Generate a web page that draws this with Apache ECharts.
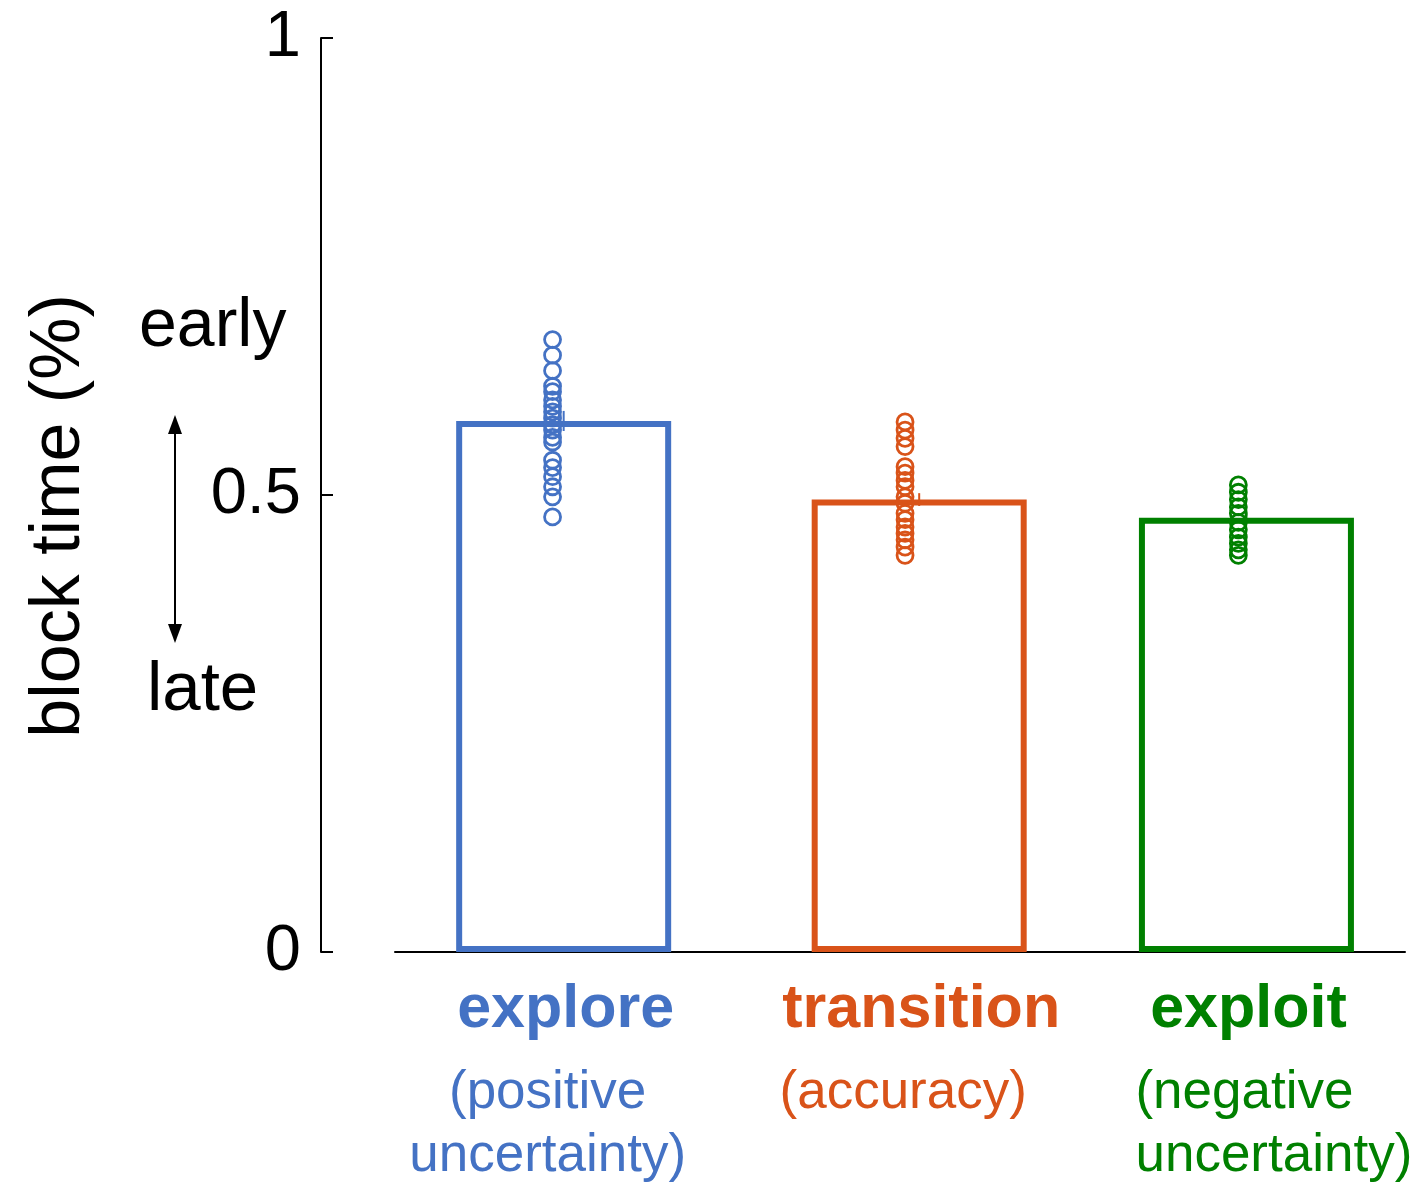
<!DOCTYPE html>
<html>
<head>
<meta charset="utf-8">
<script src="https://cdn.jsdelivr.net/npm/echarts@6/dist/echarts.min.js"></script>
<style>
html,body{margin:0;padding:0;background:#fff;}
#chart{width:1420px;height:1183px;}
</style>
</head>
<body>
<div id="chart"></div>
<script>
const categories = ['explore', 'transition', 'exploit'];
const subLabels = [['(positive', 'uncertainty)'], ['(accuracy)'], ['(negative', 'uncertainty)']];
const subAlign = ['center', 'center', 'left'];
const colors = ['#4472C4', '#D95319', '#008000'];
const barPos = [0.167, 0.519, 0.843];
const dotPos = [0.156, 0.505, 0.835];
const means = [0.581, 0.495, 0.475];
const sems = [0.011, 0.007, 0.004];
const exploreDots = [0.670, 0.653, 0.636, 0.619, 0.613, 0.604, 0.597, 0.591, 0.584, 0.577, 0.571, 0.563, 0.558, 0.538, 0.530, 0.520, 0.509, 0.498, 0.476];
const transitionDots = [0.580, 0.571, 0.562, 0.553, 0.531, 0.524, 0.516, 0.509, 0.498, 0.491, 0.480, 0.473, 0.465, 0.458, 0.451, 0.443, 0.434];
const exploitDots = [0.511, 0.503, 0.495, 0.487, 0.480, 0.470, 0.462, 0.454, 0.447, 0.440, 0.434];
const dotGroups = [exploreDots, transitionDots, exploitDots];
const yMin = 0, yMax = 1, yInterval = 0.5;
const yTitle = 'block time (%)';
const earlyLabel = 'early';
const lateLabel = 'late';

const FONT = "'Liberation Sans', Arial, Helvetica, sans-serif";

const chart = echarts.init(document.getElementById('chart'), null, {renderer: 'canvas'});

const series = [];
series.push({
  type: 'bar',
  barWidth: 215,
  z: 2,
  data: means.map((m, i) => ({
    value: [barPos[i], m],
    itemStyle: {color: 'rgba(0,0,0,0)', borderColor: colors[i], borderWidth: 6}
  })),
  animation: false
});
dotGroups.forEach((g, i) => {
  series.push({
    type: 'scatter',
    symbol: 'circle',
    symbolSize: 16,
    z: 3,
    itemStyle: {color: 'rgba(0,0,0,0)', borderColor: colors[i], borderWidth: 2.8, opacity: 1},
    data: g.map(v => [dotPos[i], v]),
    animation: false
  });
});
series.push({
  type: 'custom',
  z: 4,
  data: means.map((m, i) => [barPos[i], m, sems[i], i]),
  renderItem: function (params, api) {
    const x = api.value(0), m = api.value(1), s = api.value(2), i = api.value(3);
    const p1 = api.coord([x, m + s]);
    const p2 = api.coord([x, m - s]);
    return {
      type: 'line',
      shape: {x1: p1[0], y1: p1[1], x2: p2[0], y2: p2[1]},
      style: {stroke: colors[i], lineWidth: 2}
    };
  },
  animation: false
});

chart.setOption({
  animation: false,
  backgroundColor: '#fff',
  grid: {left: 395, right: 15, top: 38, bottom: 231},
  xAxis: {
    type: 'value', min: 0, max: 1,
    axisLine: {show: true, onZero: true, lineStyle: {color: '#000', width: 2}},
    axisTick: {show: false}, axisLabel: {show: false}, splitLine: {show: false}
  },
  yAxis: {
    type: 'value', min: yMin, max: yMax, interval: yInterval,
    offset: 74,
    axisLine: {show: true, onZero: false, lineStyle: {color: '#000', width: 2}},
    axisTick: {show: true, inside: true, length: 12, lineStyle: {color: '#000', width: 2}},
    axisLabel: {fontSize: 65, color: '#000', margin: 20, fontFamily: FONT},
    splitLine: {show: false}
  },
  series: series
});

// annotations
const graphics = [];
categories.forEach((c, i) => {
  const px = chart.convertToPixel({xAxisIndex: 0}, barPos[i]);
  graphics.push({
    type: 'text', x: px + 2, y: 1010,
    style: {text: c, fontSize: 61, fontWeight: 'bold', fontFamily: FONT, fill: colors[i], align: 'center', verticalAlign: 'middle'}
  });
  const leftPx = px - 106;
  subLabels[i].forEach((t, k) => {
    graphics.push({
      type: 'text', x: subAlign[i] === 'left' ? leftPx - 5 : px - 16, y: 1093 + k * 63,
      style: {text: t, fontSize: 53, fontFamily: FONT, fill: colors[i], align: subAlign[i], verticalAlign: 'middle'}
    });
  });
});
graphics.push({
  type: 'text', x: 139, y: 327,
  style: {text: earlyLabel, fontSize: 68, fontFamily: FONT, fill: '#000', align: 'left', verticalAlign: 'middle'}
});
graphics.push({
  type: 'text', x: 147, y: 691,
  style: {text: lateLabel, fontSize: 69, fontFamily: FONT, fill: '#000', align: 'left', verticalAlign: 'middle'}
});
graphics.push({
  type: 'text', x: 60, y: 516, rotation: Math.PI / 2,
  style: {text: yTitle, fontSize: 70, fontFamily: FONT, fill: '#000', align: 'center', verticalAlign: 'middle'}
});
graphics.push({
  type: 'line', shape: {x1: 175, y1: 428, x2: 175, y2: 630},
  style: {stroke: '#000', lineWidth: 2}
});
graphics.push({
  type: 'polygon', shape: {points: [[175, 415], [168, 434], [182, 434]]},
  style: {fill: '#000'}
});
graphics.push({
  type: 'polygon', shape: {points: [[175, 643], [168, 624], [182, 624]]},
  style: {fill: '#000'}
});
chart.setOption({graphic: graphics});
</script>
</body>
</html>
